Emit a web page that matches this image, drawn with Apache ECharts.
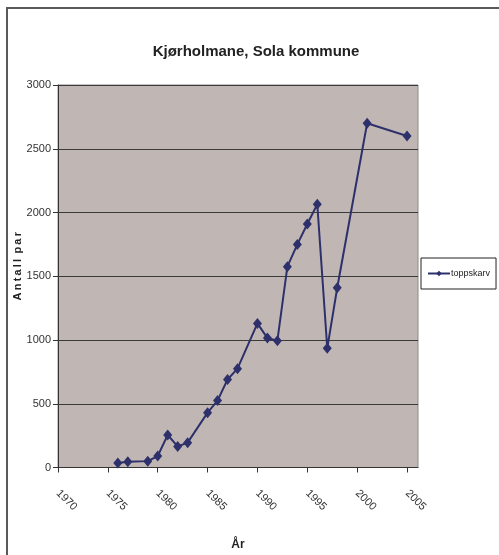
<!DOCTYPE html>
<html>
<head>
<meta charset="utf-8">
<script src="https://cdn.jsdelivr.net/npm/echarts@6/dist/echarts.min.js"></script>
<style>
  html, body { margin: 0; padding: 0; background: #fff; }
  #chart { width: 499px; height: 555px; }
</style>
</head>
<body>
<div id="chart"></div>
<script>
// toppskarv, antall par per år
const years = [1976, 1977, 1979, 1980, 1981, 1982, 1983, 1985, 1986, 1987, 1988,
  1990, 1991, 1992, 1993, 1994, 1995, 1996, 1997, 1998, 2001, 2005]
const pairs = [35, 45, 50, 90, 255, 165, 195, 430, 525, 690, 775,
  1130, 1015, 995, 1575, 1750, 1910, 2065, 935, 1410, 2700, 2600]
const seriesName = 'toppskarv'

const narrow = '"Liberation Sans Narrow", "Liberation Sans", Arial, sans-serif'
const navy = '#2e306c'

const chart = echarts.init(document.getElementById('chart'))
chart.setOption({
  animation: false,
  backgroundColor: '#fff',
  graphic: [{
    type: 'rect',
    shape: { x: 7, y: 8, width: 700, height: 700 },
    style: { fill: 'none', stroke: '#5a5a5a', lineWidth: 2 },
    silent: true
  }],
  title: {
    text: 'Kjørholmane, Sola kommune',
    left: 251,
    top: 39,
    textAlign: 'center',
    textStyle: { fontFamily: narrow, fontSize: 15, fontWeight: 'bold', color: '#222' }
  },
  legend: {
    left: 421,
    top: 258,
    padding: [11, 6, 11, 6],
    borderColor: '#222',
    borderWidth: 1,
    itemWidth: 22,
    itemHeight: 7,
    itemGap: 2,
    textStyle: { fontFamily: narrow, fontSize: 9, color: '#222', padding: [0, 0, 0, -4] },
    data: [seriesName]
  },
  grid: {
    left: 58,
    top: 85,
    right: 81,
    bottom: 87.5,
    outerBoundsMode: 'none',
    containLabel: false,
    show: true,
    backgroundColor: '#c0b7b4',
    borderColor: '#8a8a8a',
    borderWidth: 1
  },
  xAxis: {
    type: 'value',
    min: 1970,
    max: 2006.1,
    interval: 5,
    name: 'År',
    nameLocation: 'middle',
    nameGap: 71,
    nameTextStyle: { fontFamily: narrow, fontSize: 12, fontWeight: 'bold', color: '#222' },
    axisLine: { show: true, onZero: false, lineStyle: { color: '#333', width: 1 } },
    axisTick: { show: true, length: 5, lineStyle: { color: '#333' } },
    axisLabel: {
      rotate: -45,
      margin: 24,
      fontFamily: narrow,
      fontSize: 11,
      color: '#333',
      showMaxLabel: false,
      formatter: v => (v % 5 === 0 ? String(v) : '')
    },
    splitLine: { show: false }
  },
  yAxis: {
    type: 'value',
    min: 0,
    max: 3000,
    interval: 500,
    name: 'A\u2009n\u2009t\u2009a\u2009l\u2009l\u2009 p\u2009a\u2009r',
    nameLocation: 'middle',
    nameGap: 35,
    nameMoveOverlap: false,
    nameTextStyle: { fontFamily: narrow, fontSize: 11, fontWeight: 'bold', color: '#222', padding: [0, 0, 0, 20] },
    axisLine: { show: true, lineStyle: { color: '#333', width: 1 } },
    axisTick: { show: true, length: 5, lineStyle: { color: '#333' } },
    axisLabel: {
      margin: 7,
      fontFamily: narrow,
      fontSize: 11,
      color: '#333',
      formatter: v => String(v)
    },
    splitLine: { show: true, lineStyle: { color: '#3a3a3a', width: 1 } }
  },
  series: [{
    name: seriesName,
    type: 'line',
    data: years.map((y, i) => [y, pairs[i]]),
    symbol: 'diamond',
    symbolSize: [9, 11],
    showAllSymbol: true,
    lineStyle: { color: navy, width: 2 },
    itemStyle: { color: navy }
  }]
})
</script>
</body>
</html>
